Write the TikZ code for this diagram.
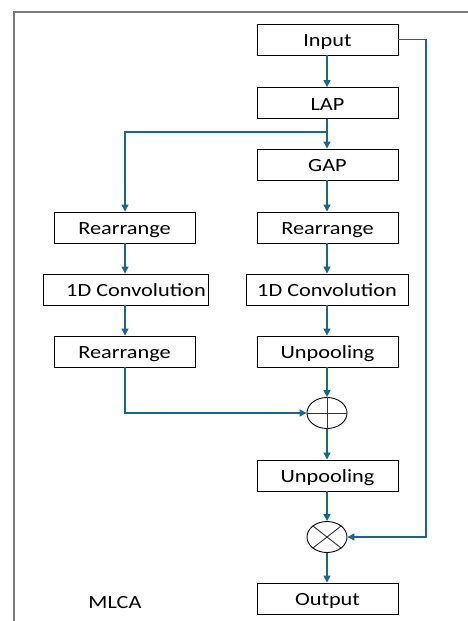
\documentclass[tikz,border=0pt]{standalone}
\usepackage{fontspec}
\setmainfont{Carlito}[FakeStretch=1.2]
\usetikzlibrary{arrows.meta,shapes.geometric}
\definecolor{flow}{RGB}{24,104,140}
\definecolor{frame}{RGB}{125,125,125}
\begin{document}
\begin{tikzpicture}[x=1pt,y=-1pt,
  every node/.style={font=\fontsize{18.6}{22}\selectfont},
  blk/.style={draw=black, line width=0.9pt, minimum width=141pt, minimum height=31pt, inner sep=0pt, text height=14pt, text depth=0pt},
  opnode/.style={draw=black, line width=0.9pt, ellipse, minimum width=40pt, minimum height=31pt, inner sep=0pt},
  flowline/.style={draw=flow, line width=1.4pt, -{Triangle[length=7pt,width=7pt]}},
  flowplain/.style={draw=flow, line width=1.4pt}]
\useasboundingbox (0,0) rectangle (468,621);
% outer frame
\draw[frame, line width=1.6pt] (14,621) -- (14,12) -- (468,12);

% main column
\node[blk] (input) at (327.5,39.5) {Input};
\node[blk] (lap) at (327.5,103) {LAP};
\node[blk] (gap) at (327.5,164.5) {GAP};
\node[blk] (rr1) at (327.5,227.5) {Rearrange};
\node[blk, minimum width=162pt] (cr) at (327,289.5) {1D Convolution};
\node[blk] (up1) at (327.5,351.5) {Unpooling};
\node[opnode] (plus) at (327,413) {};
\node[blk] (up2) at (327.5,475.5) {Unpooling};
\node[opnode] (times) at (327,537) {};
\node[blk] (output) at (327.5,598.5) {Output};

% left column
\node[blk] (rl1) at (124.5,227.5) {Rearrange};
\node[blk, minimum width=165pt] (cl) at (125.5,289.5) {\makebox[0pt]{\hspace{21pt}1D Convolution}};
\node[blk] (rl2) at (124.5,351.5) {Rearrange};

\node[text height=14pt, text depth=0pt] (title) at (115,601) {MLCA};

% operator marks
\draw[black!80, line width=0.9pt] (plus.west) -- (plus.east) (plus.north) -- (plus.south);
\draw[black!80, line width=0.9pt] (times.north east) -- (times.south west) (times.north west) -- (times.south east);

% branch point and skip path
\coordinate (split) at (327,132);
\coordinate (leftturn) at (125,132);
\coordinate (skip) at (426,39.5);

% connectors
\draw[flowline] (input.south -| split) -- (lap.north -| split);
\draw[flowline] (lap.south -| split) -- (gap.north -| split);
\draw[flowline] (split) -- (leftturn) -- (rl1.north -| leftturn);
\draw[flowline] (gap.south -| split) -- (rr1.north -| split);
\draw[flowline] (rr1.south -| split) -- (cr.north -| split);
\draw[flowline] (cr.south -| split) -- (up1.north -| split);
\draw[flowline] (up1.south -| split) -- (plus.north);
\draw[flowline] (rl1.south -| leftturn) -- (cl.north -| leftturn);
\draw[flowline] (cl.south -| leftturn) -- (rl2.north -| leftturn);
\draw[flowline] (rl2.south -| leftturn) |- (plus.west);
\draw[flowline] (plus.south) -- (up2.north -| plus);
\draw[flowline] (up2.south -| plus) -- (times.north);
\draw[flowline] (times.south) -- (output.north -| times);
\draw[flowline] (input.east) -- (skip) |- (times.east);
\end{tikzpicture}
\end{document}
